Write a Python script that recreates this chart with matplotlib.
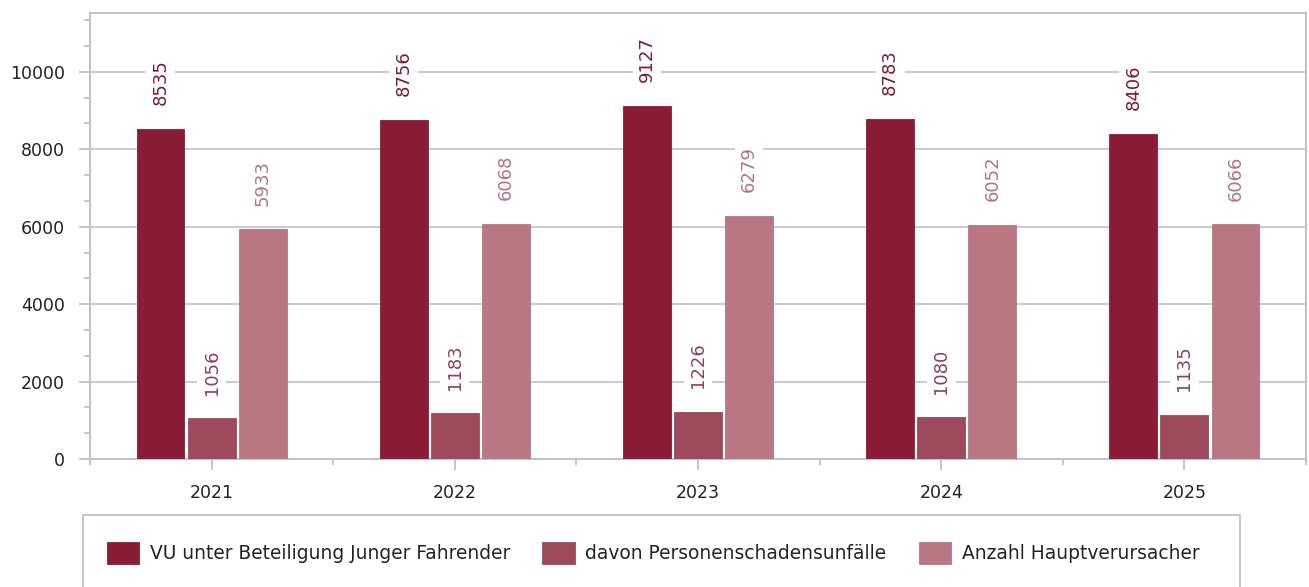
import matplotlib
matplotlib.use("Agg")
import matplotlib.pyplot as plt
from matplotlib.patches import Rectangle
from matplotlib.ticker import MultipleLocator, FixedLocator
import numpy as np

years = ["2021", "2022", "2023", "2024", "2025"]
series_names = ["VU unter Beteiligung Junger Fahrender",
                "davon Personenschadensunfälle",
                "Anzahl Hauptverursacher"]
vu_junge = [8535, 8756, 9127, 8783, 8406]
personenschaden = [1056, 1183, 1226, 1080, 1135]
hauptverursacher = [5933, 6068, 6279, 6052, 6066]

colors = ["#8A1D35", "#9E4A5C", "#B87782"]
label_colors = ["#7A1A30", "#8E4053", "#B07480"]

plt.rcParams['font.family'] = ['DejaVu Sans']

W, H = 1309, 587
fig = plt.figure(figsize=(W / 100, H / 100), dpi=100)
ax = fig.add_axes([90 / W, 1 - 459 / H, (1306 - 90) / W, (459 - 13) / H])

x = np.arange(len(years))
width = 0.197
step = 0.21
all_series = [vu_junge, personenschaden, hauptverursacher]
for i, (vals, c, lc) in enumerate(zip(all_series, colors, label_colors)):
    pos = x + (i - 1) * step
    bars = ax.bar(pos, vals, width=width, color=c, edgecolor=c, linewidth=0.6,
                  label=series_names[i], zorder=3)
    for b, v in zip(bars, vals):
        ax.annotate(str(v), (b.get_x() + b.get_width() / 2, v),
                    xytext=(0, 17), textcoords="offset points",
                    rotation=90, ha="center", va="bottom", fontsize=13,
                    color=lc, zorder=5,
                    bbox=dict(boxstyle="square,pad=0.3", fc="white", ec="none"))

ax.set_xlim(-0.5, len(years) - 0.5)
ax.set_ylim(0, 11520)
ax.set_xticks(x)
ax.set_xticklabels(years, fontsize=12.5, color="#222222")
ax.xaxis.set_minor_locator(FixedLocator(np.arange(-0.5, len(years), 1.0)))
ax.yaxis.set_major_locator(MultipleLocator(2000))
ax.yaxis.set_minor_locator(MultipleLocator(2000 / 3))
ax.tick_params(axis="y", labelsize=12.5, colors="#BBBBBB",
               length=8, width=1.2, pad=10)
ax.tick_params(axis="y", which="minor", colors="#BBBBBB", length=4, width=1.2)
ax.tick_params(axis="x", colors="#BBBBBB", length=8,
               width=1.2, pad=10)
ax.tick_params(axis="x", which="minor", colors="#BBBBBB", length=4, width=1.2)
for lab in ax.get_yticklabels() + ax.get_xticklabels():
    lab.set_color("#222222")

ax.grid(axis="y", which="major", color="#CCCCCC", linewidth=1.5, zorder=0)
ax.set_axisbelow(True)
for s in ax.spines.values():
    s.set_color("#C4C4C4")
    s.set_linewidth(1.5)

# legend frame
rect = Rectangle((83 / W, -0.05), (1240 - 83) / W, (0.05 + 1 - 515 / H),
                 transform=fig.transFigure, fill=False, ec="#C8C8C8", lw=1.5,
                 clip_on=False)
fig.patches.append(rect)
leg = fig.legend(loc="center left", bbox_to_anchor=(90 / W, 1 - 553 / H),
                 ncol=3, frameon=False, fontsize=13.4, handlelength=1.75,
                 handleheight=1.45, columnspacing=1.75, handletextpad=0.55)
for t in leg.get_texts():
    t.set_color("#222222")

fig.savefig("out.png", dpi=100)
